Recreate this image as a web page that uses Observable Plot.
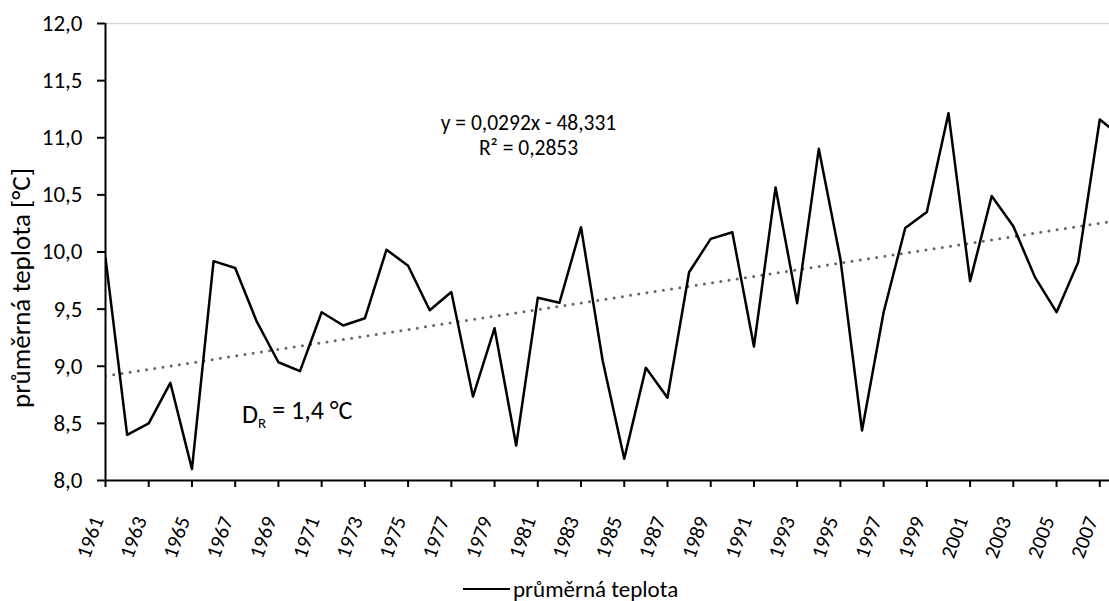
<!DOCTYPE html>
<html>
<head>
<meta charset="utf-8">
<script src="https://cdn.jsdelivr.net/npm/d3@7"></script>
<script src="https://cdn.jsdelivr.net/npm/@observablehq/plot@0.6"></script>
<style>
  html, body { margin: 0; padding: 0; background: #fff; }
  #wrap { width: 1109px; height: 601px; position: relative; font-family: Carlito, Calibri, Lato, sans-serif; }
  #legend { position: absolute; left: 463px; top: 577px; height: 24px; line-height: 24px; display: flex; align-items: center; font-size: 23px; color: #000; }
  #legend .sw { width: 47px; height: 2px; background: #000; margin-right: 3px; }
</style>
</head>
<body>
<div id="wrap">
  <div id="chart"></div>
  <div id="legend"><div class="sw"></div><span>průměrná teplota</span></div>
</div>
<script>
const years = d3.range(1961, 2009);
const temps = [
  9.95, 8.40, 8.50, 8.855, 8.10, 9.92, 9.86, 9.39, 9.035, 8.957,
  9.473, 9.357, 9.42, 10.02, 9.88, 9.49, 9.65, 8.735, 9.333, 8.306,
  9.60, 9.555, 10.217, 9.05, 8.19, 8.986, 8.724, 9.823, 10.115, 10.173,
  9.173, 10.565, 9.552, 10.903, 9.94, 8.438, 9.473, 10.21, 10.35, 11.215,
  9.745, 10.49, 10.226, 9.78, 9.473, 9.91, 11.16, 11.01
];
const xTicks = d3.range(1961, 2008, 2);
const yTicks = [8, 8.5, 9, 9.5, 10, 10.5, 11, 11.5, 12];
const seriesName = "průměrná teplota";
const yLabel = "průměrná teplota [°C]";
const eqText = ["y = 0,0292x - 48,331", "R² = 0,2853"];
const drText = "DR = 1,4 °C";

const data = years.map((y, i) => ({year: y, temp: temps[i]}));
const fmt = v => d3.format(".1f")(v).replace(".", ",");
const FONT = "Carlito, Calibri, Lato, sans-serif";

const chart = Plot.plot({
  width: 1109,
  height: 570,
  marginLeft: 105,
  marginRight: 0,
  marginTop: 23,
  marginBottom: 90,
  style: {fontFamily: FONT, fontSize: "22px", color: "#000", background: "#fff", overflow: "visible"},
  x: {type: "linear", domain: [1961, 2007.45]},
  y: {domain: [8, 12]},
  marks: [
    Plot.ruleY([12], {stroke: "#d9d9d9", strokeWidth: 1.5}),
    Plot.axisY({ticks: yTicks, tickFormat: fmt, tickSize: 8, tickPadding: 15, strokeWidth: 2, label: null, fontSize: 23}),
    Plot.axisX({ticks: xTicks, tickFormat: () => "", tickSize: 7, strokeWidth: 2, label: null}),
    Plot.axisX({ticks: xTicks, tickFormat: d => String(d), tickSize: 0, tickPadding: 37, tickRotate: -70, label: null, fontSize: 21, dx: -8}),
    Plot.linearRegressionY(data, {x: "year", y: "temp", ci: 0, stroke: "#666", strokeWidth: 3, strokeDasharray: "0,8.3", strokeLinecap: "round", clip: true}),
    Plot.line(data, {x: "year", y: "temp", stroke: "#000", strokeWidth: 2.5, clip: true}),
    Plot.ruleX([1961], {stroke: "#000", strokeWidth: 2}),
    Plot.ruleY([8], {stroke: "#000", strokeWidth: 2}),
    Plot.text([eqText[0]], {x: 1980.57, y: 11.13, text: d => d, fontSize: 21.5, textAnchor: "middle"}),
    Plot.text([eqText[1]], {x: 1980.57, y: 10.905, text: d => d, fontSize: 21.5, textAnchor: "middle"}),
    Plot.text([drText], {x: 1967.32, y: 8.58, text: d => d, fontSize: 26, textAnchor: "start"}),
    Plot.text([yLabel], {frameAnchor: "left", textAnchor: "middle", rotate: -90, dx: -84, dy: 36, fontSize: 27, text: d => d})
  ]
});
document.getElementById("chart").appendChild(chart);

// subscript R in D_R
d3.select(chart).selectAll("text").each(function() {
  if (this.textContent === drText) {
    const t = d3.select(this);
    t.text(null);
    t.append("tspan").text("D");
    t.append("tspan").attr("font-size", 15).attr("dy", "0.35em").text("R");
    t.append("tspan").attr("dy", "-0.35em").text(" = 1,4 °C");
  }
});
</script>
</body>
</html>
